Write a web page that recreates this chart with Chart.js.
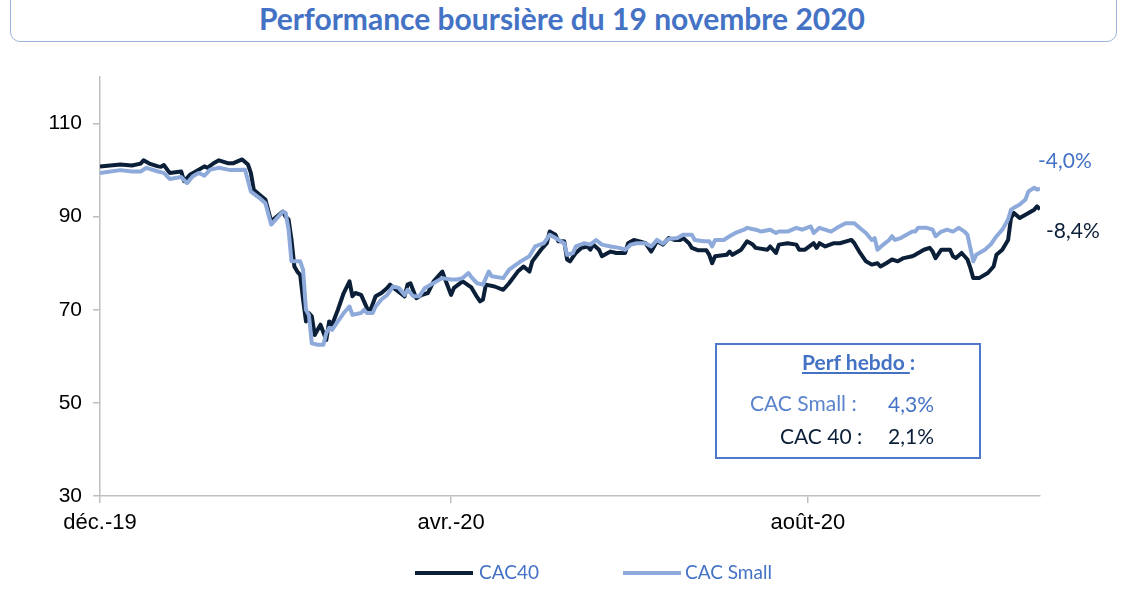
<!DOCTYPE html>
<html>
<head>
<meta charset="utf-8">
<script src="https://cdn.jsdelivr.net/npm/chart.js@4/dist/chart.umd.min.js"></script>
<style>
  body { margin: 0; background: #fff; width: 1124px; height: 596px; overflow: hidden; position: relative; font-family: Lato, "Open Sans", sans-serif; }
  #cadre-titre { position: absolute; left: 10px; top: -12px; width: 1105px; height: 52px; border: 1.5px solid #9fb4dc; border-radius: 10px; }
  #titre { position: absolute; left: 0; top: 0px; width: 1124px; text-align: center; color: #4472c4; font-weight: bold; font-size: 30px; }
  #graph { position: absolute; left: 0; top: 0; }
  #perf { position: absolute; left: 715px; top: 343px; width: 262px; height: 112px; border: 2px solid #4f7acb; color: #4472c4; }
  #perf .t { position: absolute; left: 85px; top: 4px; font-weight: bold; font-size: 21px; }
  #perf .t u { text-decoration: underline; }
  #perf .l { position: absolute; font-size: 21px; }
  #legende { position: absolute; top: 560px; left: 0; width: 1124px; font-size: 19px; color: #4472c4; }
  #legende span.trait { position: absolute; height: 4px; top: 11px; }
  #legende span.txt { position: absolute; top: 0; }
</style>
</head>
<body>
<div id="cadre-titre"></div>
<div id="titre">Performance boursière du 19 novembre 2020</div>
<canvas id="graph" width="1124" height="596"></canvas>
<div id="perf">
  <div class="t"><u>Perf hebdo </u>:</div>
  <div class="l" style="left:33px;top:45px;color:#5b84cc">CAC Small :</div>
  <div class="l" style="left:171px;top:46px;color:#4472c4">4,3%</div>
  <div class="l" style="left:63px;top:78px;color:#0b1f38">CAC 40 :</div>
  <div class="l" style="left:171px;top:78px;color:#0b1f38">2,1%</div>
</div>
<div id="legende">
  <span class="trait" style="left:415px;width:58px;background:#0b1f38"></span>
  <span class="txt" style="left:479px">CAC40</span>
  <span class="trait" style="left:623px;width:58px;background:#8eaadb"></span>
  <span class="txt" style="left:685px">CAC Small</span>
</div>
<script>
// jours depuis le 31/12/2019
const joursCac40 = [0,7,11,14,15,17,20,21,22,24,28,29,31,33,36,37,39,41,44,46,49,51,52,53,55,57,59,63,64,65,66,67,68,69,70,71,72,73,74,75,76,78,79,80,82,84,86,87,88,90,92,93,95,97,99,100,102,105,106,107,109,111,113,115,118,119,121,122,125,128,130,131,132,133,136,139,141,144,146,148,149,152,154,155,157,158,160,161,162,164,166,168,169,170,172,173,175,176,178,181,182,184,186,188,190,192,194,196,198,200,201,203,204,206,209,210,211,212,216,217,218,221,223,225,226,230,231,233,234,237,240,241,243,246,247,248,250,253,255,259,260,262,264,266,268,269,271,273,275,277,280,281,284,286,287,288,290,293,294,295,297,299,300,301,303,306,308,309,311,313,314,315,317,319,322,323,324];
const cac40 = [100.8,101.2,101.0,101.4,102.1,101.4,100.8,100.7,101.1,99.4,99.7,97.6,99.0,99.7,100.8,100.5,101.4,102.1,101.5,101.5,102.3,101.2,99.4,95.8,94.7,93.7,89.0,91.1,90.0,89.4,85.1,79.3,78.2,77.5,72.2,67.5,69.3,68.6,64.6,65.7,66.8,63.5,67.5,66.8,70.0,73.6,76.1,72.9,73.6,73.2,70.4,69.6,72.9,73.6,74.7,75.4,74.3,72.9,75.4,75.7,72.5,73.2,73.6,76.1,78.2,76.5,73.2,74.7,76.1,74.8,72.7,71.8,72.2,75.4,75.0,74.3,75.7,78.2,79.3,78.2,80.4,82.9,84.3,86.8,86.1,84.7,84.7,80.8,80.4,82.2,83.3,83.6,82.9,84.0,82.9,81.5,82.2,82.5,82.2,82.2,84.3,85.0,84.7,84.3,82.5,84.7,84.0,85.4,85.0,85.0,85.4,84.3,83.3,82.8,82.8,81.8,80.0,81.5,81.8,82.5,81.8,82.9,84.7,84.0,83.3,82.9,83.6,82.2,84.0,84.3,84.0,82.9,82.9,84.3,83.3,84.3,83.6,84.3,84.3,85.0,84.3,82.2,80.4,79.7,80.0,79.3,80.0,80.8,80.4,81.1,81.5,81.8,82.9,83.3,82.5,81.1,82.9,82.9,81.5,81.1,82.2,80.8,79.0,76.8,76.8,77.9,79.3,81.8,82.9,85.0,89.7,90.8,89.7,90.4,91.5,92.2,91.6];

const joursSmall = [0,7,11,14,16,20,22,24,28,30,32,34,36,38,41,45,50,52,55,57,59,63,64,65,66,69,70,71,72,73,75,77,78,79,80,82,84,86,87,90,91,92,94,95,97,99,101,103,105,106,108,110,112,114,116,118,121,123,125,127,128,130,132,134,135,139,141,145,148,150,153,155,157,160,161,163,164,167,169,171,173,176,179,181,183,185,188,190,192,194,196,199,201,204,205,208,210,211,212,215,217,219,222,223,226,228,231,233,234,237,240,242,245,246,248,252,254,257,260,262,264,266,267,268,270,272,273,274,276,278,280,281,282,285,287,288,290,292,294,296,298,299,301,302,305,307,309,311,313,314,315,317,319,320,321,322,323,324];
const cacSmall = [99.4,100.0,99.7,99.7,100.5,99.7,99.4,98.1,98.5,97.2,98.7,99.4,98.8,100.1,100.5,100.0,100.1,95.4,94.0,92.9,88.3,91.1,90.8,87.2,80.4,80.4,78.6,70.0,68.9,62.8,62.5,62.5,65.0,66.1,65.7,67.5,69.3,70.7,68.9,69.3,70.0,69.3,69.3,70.7,72.2,73.2,75.0,74.7,73.2,74.3,72.9,72.9,74.7,75.4,76.1,76.8,76.5,76.5,76.8,77.9,77.0,75.7,75.4,78.2,77.2,76.8,78.6,80.4,81.5,83.6,84.3,86.1,85.4,84.3,81.8,82.2,83.6,84.3,84.0,85.0,84.0,83.6,83.3,82.9,84.0,84.3,84.3,83.6,85.0,84.2,85.2,85.4,86.1,86.1,85.0,84.7,84.7,83.6,85.0,85.0,85.8,86.5,87.2,87.6,87.2,86.8,87.2,86.5,86.8,86.8,87.6,87.2,87.9,86.5,87.6,86.8,87.6,88.6,88.6,87.5,86.5,85.0,85.4,82.9,84.0,85.0,85.8,85.0,85.4,86.1,86.8,86.8,87.6,87.6,87.2,85.8,86.8,87.2,86.8,87.6,86.8,86.1,80.4,81.8,82.9,84.0,85.8,87.2,89.4,91.5,91.9,92.6,93.7,95.4,95.8,96.2,95.8,96.0];

const joursMois = [0, 121, 244];
const moisLabels = ['déc.-19', 'avr.-20', 'août-20'];
const yTicks = [30, 50, 70, 90, 110];
const perfAnnee = ['-8,4%', '-4,0%'];

const couleurCac40 = '#0b1f38';
const couleurSmall = '#8eaadb';

// etiquettes de fin de courbe
const finCourbes = {
    id: 'finCourbes',
    afterDatasetsDraw(chart) {
        const ctx = chart.ctx;
        ctx.save();
        ctx.font = '21px Lato, "Open Sans", sans-serif';
        ctx.textBaseline = 'middle';
        const p0 = chart.getDatasetMeta(0).data.at(-1);
        const p1 = chart.getDatasetMeta(1).data.at(-1);
        ctx.fillStyle = couleurCac40;
        ctx.fillText(perfAnnee[0], p0.x + 6, p0.y + 22);
        ctx.fillStyle = '#4472c4';
        ctx.fillText(perfAnnee[1], p1.x - 2, p1.y - 27);
        ctx.restore();
    }
};

const ctx = document.getElementById('graph').getContext('2d');
new Chart(ctx, {
    type: 'line',
    data: {
        datasets: [{
            label: 'CAC40',
            data: joursCac40.map((j, i) => ({ x: j, y: cac40[i] })),
            borderColor: couleurCac40,
            backgroundColor: couleurCac40,
            borderWidth: 4,
            order: 1
        }, {
            label: 'CAC Small',
            data: joursSmall.map((j, i) => ({ x: j, y: cacSmall[i] })),
            borderColor: couleurSmall,
            backgroundColor: couleurSmall,
            borderWidth: 4,
            order: 0
        }]
    },
    options: {
        responsive: false,
        animation: false,
        layout: { padding: { left: 0, right: 84, top: 77, bottom: 50 } },
        elements: { point: { radius: 0 }, line: { tension: 0, borderJoinStyle: 'round' } },
        plugins: { legend: { display: false }, tooltip: { enabled: false } },
        scales: {
            x: {
                type: 'linear',
                min: 0,
                max: 324,
                afterBuildTicks: s => { s.ticks = joursMois.map(v => ({ value: v })); },
                afterFit: s => { s.height = 50; },
                grid: { drawOnChartArea: false, tickLength: 7, color: '#bfbfbf', lineWidth: 1.5 },
                border: { color: '#bfbfbf', width: 1.5 },
                ticks: {
                    callback: (v, i) => moisLabels[i],
                    color: '#000',
                    font: { family: '"Liberation Sans", Arial', size: 22 },
                    padding: 7,
                    maxRotation: 0
                }
            },
            y: {
                min: 30,
                max: 120,
                afterBuildTicks: s => { s.ticks = yTicks.map(v => ({ value: v })); },
                afterFit: s => { s.width = 100; },
                grid: { drawOnChartArea: false, tickLength: 7, color: '#bfbfbf', lineWidth: 1.5 },
                border: { color: '#bfbfbf', width: 1.5 },
                ticks: {
                    color: '#000',
                    font: { family: '"Liberation Sans", Arial', size: 21 },
                    padding: 11
                }
            }
        }
    },
    plugins: [finCourbes]
});
</script>
</body>
</html>
